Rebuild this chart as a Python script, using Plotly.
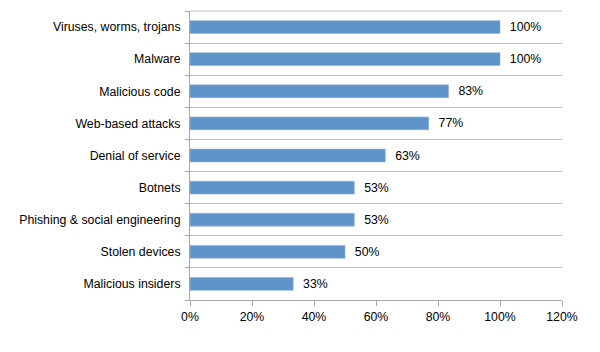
import plotly.graph_objects as go

categories = ["Viruses, worms, trojans", "Malware", "Malicious code", "Web-based attacks",
              "Denial of service", "Botnets", "Phishing & social engineering",
              "Stolen devices", "Malicious insiders"]
values = [1.00, 1.00, 0.834, 0.77, 0.63, 0.53, 0.53, 0.50, 0.333]
labels = ["100%", "100%", "83%", "77%", "63%", "53%", "53%", "50%", "33%"]
x_ticks = [0, 0.2, 0.4, 0.6, 0.8, 1.0, 1.2]
x_tick_labels = ["0%", "20%", "40%", "60%", "80%", "100%", "120%"]

FS = 12.3

fig = go.Figure(go.Bar(
    x=values, y=categories, orientation="h",
    text=["  " + t for t in labels], textposition="outside", constraintext="none",
    textfont=dict(size=FS, color="#000000", family="Liberation Sans, Arial, sans-serif"),
    marker=dict(color="#5E94CA", line=dict(color="#8FB4DC", width=0.6)),
    width=0.4, cliponaxis=False,
))

fig.update_layout(
    width=600, height=352,
    margin=dict(l=190, r=38, t=11, b=52),
    paper_bgcolor="white", plot_bgcolor="white",
    font=dict(family="Liberation Sans, Arial, sans-serif", size=FS, color="#000000"),
    showlegend=False,
    xaxis=dict(range=[0, 1.2], tickvals=x_ticks, ticktext=x_tick_labels,
               showgrid=False, zeroline=False, showline=True, linecolor="#A6A6A6",
               linewidth=1, ticks="outside", ticklen=5, tickcolor="#A6A6A6",
               tickfont=dict(size=FS)),
    yaxis=dict(categoryorder="array", categoryarray=categories[::-1],
               tickson="boundaries", showgrid=True, gridcolor="#C0C0C0", gridwidth=1,
               showline=True, linecolor="#A6A6A6", linewidth=1,
               ticks="outside", ticklen=4, tickcolor="#A6A6A6",
               ticklabelstandoff=6, tickfont=dict(size=FS)),
    shapes=[dict(type="line", xref="paper", yref="paper", x0=0, x1=1, y0=1, y1=1,
                 line=dict(color="#C0C0C0", width=1), layer="below")],
)

fig.write_html("out.html")
